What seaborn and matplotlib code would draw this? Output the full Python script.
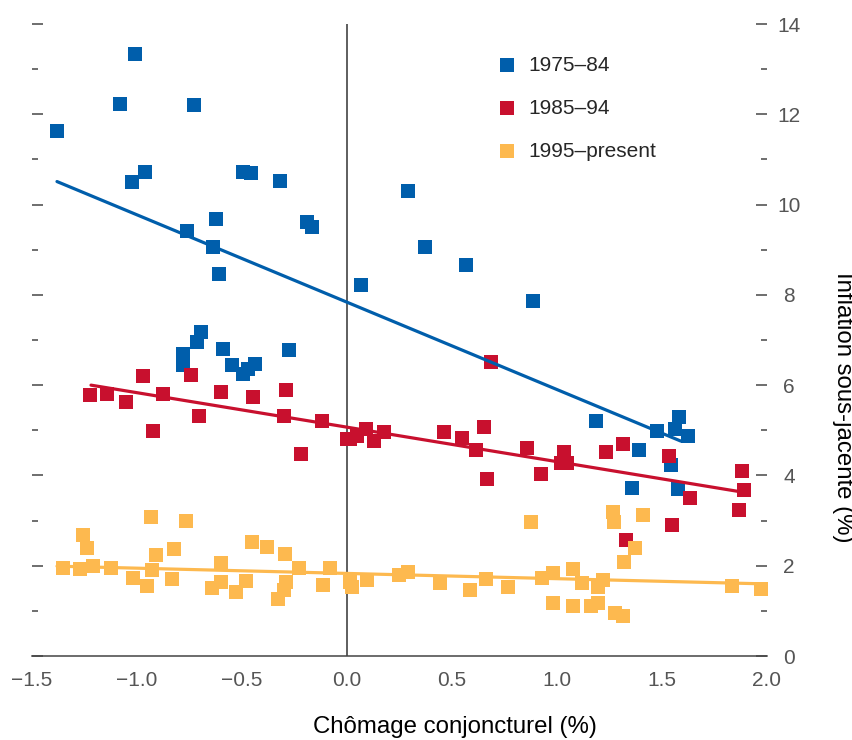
import pandas as pd
import matplotlib
matplotlib.use("Agg")
import matplotlib.pyplot as plt
from matplotlib.ticker import MultipleLocator
import seaborn as sns

sns.set_style("white")
plt.rcParams['font.family'] = ['Liberation Sans', 'DejaVu Sans']

periods = ["1975\u201384", "1985\u201394", "1995\u2013present"]
colors = ["#005EAB", "#C8102E", "#FDB94F"]

# 1975-84
blue_x = [-1.381, -1.01, -1.081, -0.729, -1.024, -0.962, -0.495, -0.457, -0.319,
          -0.624, -0.762, -0.638, -0.609, -0.19, -0.167, 0.29, 0.371, 0.067,
          0.567, 0.886,
          -0.695, -0.714, -0.781, -0.781, -0.59, -0.276, -0.548, -0.495, -0.471, -0.438,
          1.186, 1.476, 1.581, 1.562, 1.624, 1.39, 1.543, 1.357, 1.576]
blue_y = [11.62, 13.33, 12.22, 12.2, 10.49, 10.73, 10.73, 10.69, 10.53,
          9.69, 9.42, 9.07, 8.47, 9.62, 9.51, 10.29, 9.07, 8.22,
          8.67, 7.87,
          7.18, 6.96, 6.69, 6.44, 6.8, 6.78, 6.44, 6.24, 6.36, 6.47,
          5.2, 4.98, 5.29, 5.02, 4.87, 4.56, 4.22, 3.73, 3.71]

# 1985-94
red_x = [-1.224, -1.143, -1.052, -0.971, -0.876, -0.924, -0.743, -0.705, -0.6,
         -0.448, -0.29, -0.3, -0.119, -0.219, 0.0,
         0.014, 0.05, 0.09, 0.129, 0.176, 0.462, 0.548, 0.614, 0.652, 0.667,
         0.686, 0.857, 0.924, 1.033, 1.019, 1.05, 1.233, 1.314, 1.533, 1.633,
         1.881, 1.89, 1.867, 1.548, 1.329]
red_y = [5.78, 5.8, 5.62, 6.2, 5.8, 4.98, 6.22, 5.31, 5.84,
         5.73, 5.89, 5.31, 5.2, 4.47, 4.8,
         4.8, 4.87, 5.02, 4.76, 4.96, 4.96, 4.82, 4.56, 5.07, 3.93,
         6.51, 4.6, 4.04, 4.51, 4.27, 4.27, 4.51, 4.69, 4.42, 3.51,
         4.09, 3.67, 3.24, 2.91, 2.56]

# 1995-present
yellow_x = [-1.352, -1.271, -1.257, -1.238, -1.21, -1.124, -1.019, -0.952, -0.933,
            -0.91, -0.929, -0.833, -0.824, -0.767, -0.643, -0.6, -0.6, -0.529,
            -0.481, -0.452, -0.381, -0.295, -0.29, -0.3, -0.329, -0.229, -0.114,
            -0.081, 0.014, 0.024, 0.095, 0.29, 0.248, 0.443, 0.586, 0.662, 0.767,
            0.876, 0.929, 0.981, 0.981, 1.076, 1.076, 1.119, 1.162, 1.195, 1.195,
            1.219, 1.267, 1.271, 1.41, 1.371, 1.319, 1.276, 1.314, 1.833, 1.971]
yellow_y = [1.96, 1.93, 2.69, 2.4, 2.0, 1.96, 1.73, 1.56, 3.07,
            2.24, 1.91, 1.71, 2.38, 3.0, 1.51, 2.07, 1.64, 1.42,
            1.67, 2.53, 2.42, 2.27, 1.64, 1.47, 1.27, 1.96, 1.58,
            1.96, 1.64, 1.53, 1.69, 1.87, 1.8, 1.62, 1.47, 1.71, 1.53,
            2.96, 1.73, 1.84, 1.18, 1.93, 1.11, 1.62, 1.11, 1.18, 1.53,
            1.69, 3.18, 2.96, 3.13, 2.4, 2.09, 0.96, 0.89, 1.56, 1.49]

# fitted trend lines (end points)
blue_fit_x = [-1.381, 1.59]
blue_fit_y = [10.51, 4.76]
red_fit_x = [-1.219, 1.871]
red_fit_y = [6.0, 3.64]
yellow_fit_x = [-1.381, 1.967]
yellow_fit_y = [1.99, 1.6]

series = [(blue_x, blue_y, blue_fit_x, blue_fit_y),
          (red_x, red_y, red_fit_x, red_fit_y),
          (yellow_x, yellow_y, yellow_fit_x, yellow_fit_y)]

fig = plt.figure(figsize=(8.53, 7.40), dpi=100)
ax = fig.add_axes([32 / 853, 84 / 740, 735 / 853, 632 / 740])

ax.axvline(0, color="#333333", lw=1.1, zorder=1)

handles = []
for (xs, ys, fx, fy), name, col in zip(series, periods, colors):
    df = pd.DataFrame({"x": xs, "y": ys})
    sns.scatterplot(data=df, x="x", y="y", marker="s", s=100, color=col,
                    linewidth=0, ax=ax, label=name, zorder=3)
    handles.append(ax.collections[-1])
for (xs, ys, fx, fy), col in zip(series, colors):
    fit = pd.DataFrame({"x": fx, "y": fy})
    sns.lineplot(data=fit, x="x", y="y", color=col, lw=2.3, ax=ax, zorder=4)

ax.set_xlim(-1.5, 2.0)
ax.set_ylim(0, 14)
ax.xaxis.set_major_locator(MultipleLocator(0.5))
ax.yaxis.set_major_locator(MultipleLocator(2))
ax.yaxis.set_minor_locator(MultipleLocator(1))
ax.set_xticklabels([f"{v:.1f}".replace("-", "\u2212") for v in ax.get_xticks()])

for s in ["top", "left", "right"]:
    ax.spines[s].set_visible(False)
ax.spines["bottom"].set_color("#444444")
ax.spines["bottom"].set_linewidth(1.1)

ax.tick_params(axis="x", direction="in", length=8, width=1.1, color="#444444",
               labelsize=15, labelcolor="#555555", pad=11)
ax.tick_params(axis="y", which="both", direction="in", left=True, right=True,
               labelleft=False, labelright=True, width=1.2, color="#555555",
               labelsize=15, labelcolor="#555555", pad=16)
ax.tick_params(axis="y", which="major", length=8)
ax.tick_params(axis="y", which="minor", length=4)
plt.setp(ax.get_yticklabels(), ha="center")

ax.set_xlabel("Ch\u00f4mage conjoncturel (%)", fontsize=17.3, color="black")
ax.xaxis.set_label_coords(0.575, -0.095)
ax.set_ylabel("Inflation sous-jacente (%)", fontsize=17.3, color="black", rotation=270)
ax.yaxis.set_label_position("right")
ax.yaxis.label.set_va("center")
ax.yaxis.label.set_ha("center")
ax.yaxis.set_label_coords(1.103, 0.394)

ax.legend(handles=handles, labels=periods, loc="upper left",
          bbox_to_anchor=(0.632, 0.950), frameon=False, fontsize=15,
          handlelength=1.0, handletextpad=0.55, labelspacing=1.15,
          borderpad=0, borderaxespad=0)

fig.savefig("out.png", dpi=100)
